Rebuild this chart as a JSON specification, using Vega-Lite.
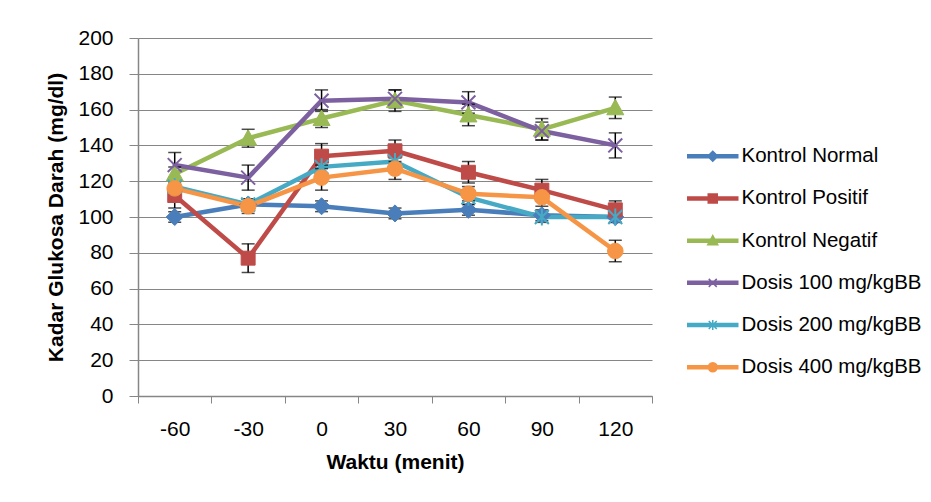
{
  "$schema": "https://vega.github.io/schema/vega-lite/v6.json",
  "width": 514,
  "height": 358,
  "autosize": "none",
  "padding": {"left": 138, "top": 38, "right": 279, "bottom": 106},
  "background": "white",
  "config": {"view": {"stroke": null}, "font": "Liberation Sans"},
  "data": {
    "values": [
      {"series": "Kontrol Normal", "waktu": -60, "value": 100, "err": 3},
      {"series": "Kontrol Normal", "waktu": -30, "value": 107, "err": 3},
      {"series": "Kontrol Normal", "waktu": 0, "value": 106, "err": 3},
      {"series": "Kontrol Normal", "waktu": 30, "value": 102, "err": 3},
      {"series": "Kontrol Normal", "waktu": 60, "value": 104, "err": 3},
      {"series": "Kontrol Normal", "waktu": 90, "value": 101, "err": 3},
      {"series": "Kontrol Normal", "waktu": 120, "value": 100, "err": 3},
      {"series": "Kontrol Positif", "waktu": -60, "value": 112, "err": 7},
      {"series": "Kontrol Positif", "waktu": -30, "value": 77, "err": 8},
      {"series": "Kontrol Positif", "waktu": 0, "value": 134, "err": 7},
      {"series": "Kontrol Positif", "waktu": 30, "value": 137, "err": 6},
      {"series": "Kontrol Positif", "waktu": 60, "value": 125, "err": 6},
      {"series": "Kontrol Positif", "waktu": 90, "value": 115, "err": 6},
      {"series": "Kontrol Positif", "waktu": 120, "value": 104, "err": 5},
      {"series": "Kontrol Negatif", "waktu": -60, "value": 124, "err": 4},
      {"series": "Kontrol Negatif", "waktu": -30, "value": 144, "err": 5},
      {"series": "Kontrol Negatif", "waktu": 0, "value": 155, "err": 5},
      {"series": "Kontrol Negatif", "waktu": 30, "value": 165, "err": 6},
      {"series": "Kontrol Negatif", "waktu": 60, "value": 157, "err": 6},
      {"series": "Kontrol Negatif", "waktu": 90, "value": 149, "err": 6},
      {"series": "Kontrol Negatif", "waktu": 120, "value": 161, "err": 6},
      {"series": "Dosis 100 mg/kgBB", "waktu": -60, "value": 129, "err": 7},
      {"series": "Dosis 100 mg/kgBB", "waktu": -30, "value": 122, "err": 7},
      {"series": "Dosis 100 mg/kgBB", "waktu": 0, "value": 165, "err": 6},
      {"series": "Dosis 100 mg/kgBB", "waktu": 30, "value": 166, "err": 5},
      {"series": "Dosis 100 mg/kgBB", "waktu": 60, "value": 164, "err": 6},
      {"series": "Dosis 100 mg/kgBB", "waktu": 90, "value": 148, "err": 5},
      {"series": "Dosis 100 mg/kgBB", "waktu": 120, "value": 140, "err": 7},
      {"series": "Dosis 200 mg/kgBB", "waktu": -60, "value": 117, "err": 4},
      {"series": "Dosis 200 mg/kgBB", "waktu": -30, "value": 107, "err": 3},
      {"series": "Dosis 200 mg/kgBB", "waktu": 0, "value": 128, "err": 5},
      {"series": "Dosis 200 mg/kgBB", "waktu": 30, "value": 131, "err": 5},
      {"series": "Dosis 200 mg/kgBB", "waktu": 60, "value": 111, "err": 4},
      {"series": "Dosis 200 mg/kgBB", "waktu": 90, "value": 100, "err": 3},
      {"series": "Dosis 200 mg/kgBB", "waktu": 120, "value": 100, "err": 3},
      {"series": "Dosis 400 mg/kgBB", "waktu": -60, "value": 116, "err": 4},
      {"series": "Dosis 400 mg/kgBB", "waktu": -30, "value": 106, "err": 4},
      {"series": "Dosis 400 mg/kgBB", "waktu": 0, "value": 122, "err": 7},
      {"series": "Dosis 400 mg/kgBB", "waktu": 30, "value": 127, "err": 6},
      {"series": "Dosis 400 mg/kgBB", "waktu": 60, "value": 113, "err": 4},
      {"series": "Dosis 400 mg/kgBB", "waktu": 90, "value": 111, "err": 5},
      {"series": "Dosis 400 mg/kgBB", "waktu": 120, "value": 81, "err": 6}
    ]
  },
  "encoding": {
    "x": {
      "field": "waktu",
      "type": "ordinal",
      "sort": "ascending",
      "scale": {"type": "band", "paddingInner": 0, "paddingOuter": 0},
      "axis": {
        "title": "Waktu (menit)",
        "labelAngle": 0,
        "tickBand": "extent",
        "tickSize": 7,
        "tickColor": "#868686",
        "domainColor": "#868686",
        "domainWidth": 1.5,
        "labelPadding": 15,
        "labelFont": "Liberation Sans",
        "labelFontSize": 21,
        "labelColor": "#000000",
        "titleFont": "Liberation Sans",
        "titleFontSize": 21,
        "titleFontWeight": "bold",
        "titleColor": "#000000",
        "titlePadding": 12,
        "grid": false
      }
    },
    "y": {
      "field": "value",
      "type": "quantitative",
      "scale": {"domain": [0, 200], "nice": false},
      "axis": {
        "title": "Kadar Glukosa Darah (mg/dl)",
        "values": [0, 20, 40, 60, 80, 100, 120, 140, 160, 180, 200],
        "labelOverlap": false,
        "tickSize": 9,
        "tickColor": "#868686",
        "domainColor": "#868686",
        "domainWidth": 1.5,
        "gridColor": "#868686",
        "gridWidth": 1,
        "labelPadding": 16,
        "labelFont": "Liberation Sans",
        "labelFontSize": 21,
        "labelColor": "#000000",
        "titleFont": "Liberation Sans",
        "titleFontSize": 21,
        "titleFontWeight": "bold",
        "titleColor": "#000000",
        "titlePadding": 11
      }
    }
  },
  "layer": [
    {
      "mark": {"type": "line", "strokeWidth": 4.5, "strokeJoin": "round", "strokeCap": "round"},
      "encoding": {
        "color": {
          "field": "series",
          "type": "nominal",
          "scale": {
            "domain": ["Kontrol Normal", "Kontrol Positif", "Kontrol Negatif", "Dosis 100 mg/kgBB", "Dosis 200 mg/kgBB", "Dosis 400 mg/kgBB"],
            "range": ["#4A7EBB", "#BE4B48", "#98B954", "#7D60A0", "#46AAC5", "#F69545"]
          },
          "legend": {
            "orient": "none",
            "legendX": 564.5,
            "legendY": 108,
            "title": null,
            "padding": 0,
            "symbolSize": 100,
            "symbolStrokeWidth": 1.5,
            "symbolOpacity": 1,
            "labelOffset": 18.5,
            "labelLimit": 400,
            "rowPadding": 21.2,
            "labelFont": "Liberation Sans",
            "labelFontSize": 20.5,
            "labelColor": "#000000"
          }
        }
      }
    },
    {
      "mark": {"type": "errorbar", "ticks": {"size": 13}, "color": "black", "thickness": 1.5},
      "encoding": {
        "yError": {"field": "err"}
      }
    },
    {
      "mark": {"type": "point", "filled": true, "opacity": 0},
      "encoding": {
        "color": {"field": "series", "type": "nominal"},
        "stroke": {
          "field": "series",
          "type": "nominal",
          "scale": {
            "domain": ["Kontrol Normal", "Kontrol Positif", "Kontrol Negatif", "Dosis 100 mg/kgBB", "Dosis 200 mg/kgBB", "Dosis 400 mg/kgBB"],
            "range": ["#4A7EBB", "#BE4B48", "#98B954", "#7D60A0", "#46AAC5", "#F69545"]
          },
          "legend": null
        },
        "shape": {
          "field": "series",
          "type": "nominal",
          "scale": {
            "domain": ["Kontrol Normal", "Kontrol Positif", "Kontrol Negatif", "Dosis 100 mg/kgBB", "Dosis 200 mg/kgBB", "Dosis 400 mg/kgBB"],
            "range": [
              "M-5,-0.3H5V0.3H-5Z M0,-1L1,0L0,1L-1,0Z",
              "M-5,-0.3H5V0.3H-5Z M-0.9,-0.9H0.9V0.9H-0.9Z",
              "M-5,-0.3H5V0.3H-5Z M0,-1L1,0.8H-1Z",
              "M-5,-0.3H5V0.3H-5Z M-0.8,-0.8L0.8,0.8M-0.8,0.8L0.8,-0.8",
              "M-5,-0.3H5V0.3H-5Z M-0.8,-0.8L0.8,0.8M-0.8,0.8L0.8,-0.8M0,-1V1",
              "M-5,-0.3H5V0.3H-5Z M-0.9,0A0.9,0.9,0,1,1,0.9,0A0.9,0.9,0,1,1,-0.9,0Z"
            ]
          },
          "legend": null
        }
      }
    },
    {
      "transform": [{"filter": {"field": "series", "equal": "Kontrol Normal"}}],
      "mark": {"type": "point", "filled": true, "size": 240, "opacity": 1, "strokeWidth": 1, "color": "#4A7EBB", "stroke": "#4A7EBB", "shape": "M0,-1.1L1.1,0L0,1.1L-1.1,0Z"}
    },
    {
      "transform": [{"filter": {"field": "series", "equal": "Kontrol Positif"}}],
      "mark": {"type": "point", "filled": true, "size": 240, "opacity": 1, "strokeWidth": 1, "color": "#BE4B48", "stroke": "#BE4B48", "shape": "M-0.9,-0.9H0.9V0.9H-0.9Z"}
    },
    {
      "transform": [{"filter": {"field": "series", "equal": "Kontrol Negatif"}}],
      "mark": {"type": "point", "filled": true, "size": 240, "opacity": 1, "strokeWidth": 1, "color": "#98B954", "stroke": "#98B954", "shape": "M0,-1.1L1.1,0.9H-1.1Z"}
    },
    {
      "transform": [{"filter": {"field": "series", "equal": "Dosis 100 mg/kgBB"}}],
      "mark": {"type": "point", "filled": true, "size": 240, "opacity": 1, "strokeWidth": 2, "color": "#7D60A0", "stroke": "#7D60A0", "shape": "M-0.9,-0.9L0.9,0.9M-0.9,0.9L0.9,-0.9"}
    },
    {
      "transform": [{"filter": {"field": "series", "equal": "Dosis 200 mg/kgBB"}}],
      "mark": {"type": "point", "filled": true, "size": 240, "opacity": 1, "strokeWidth": 2, "color": "#46AAC5", "stroke": "#46AAC5", "shape": "M-0.9,-0.9L0.9,0.9M-0.9,0.9L0.9,-0.9M0,-1.1V1.1"}
    },
    {
      "transform": [{"filter": {"field": "series", "equal": "Dosis 400 mg/kgBB"}}],
      "mark": {"type": "point", "filled": true, "size": 240, "opacity": 1, "strokeWidth": 1, "color": "#F69545", "stroke": "#F69545", "shape": "M-1,0A1,1,0,1,1,1,0A1,1,0,1,1,-1,0Z"}
    }
  ]
}
